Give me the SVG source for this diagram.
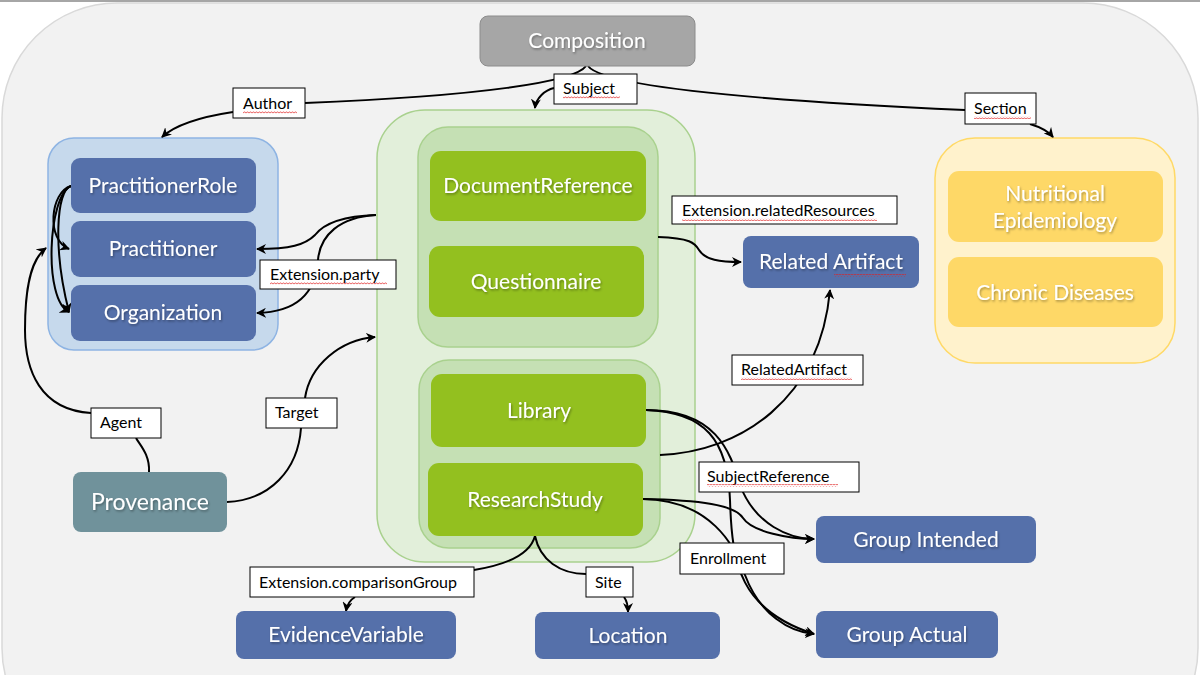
<svg xmlns="http://www.w3.org/2000/svg" width="1200" height="675" viewBox="0 0 1200 675">
<style>
.nt{font-family:Lato,"Noto Sans","Liberation Sans",sans-serif;font-size:21px;fill:#fff;text-anchor:middle;filter:url(#ts)}
.lb{font-family:Lato,"Noto Sans","Liberation Sans",sans-serif;font-size:16px;fill:#000}
.lbox{fill:#fff;stroke:#000;stroke-width:1}
.blue{fill:#5570aa}
.green{fill:#93c01f}
.yel{fill:#fed867}
.c{fill:none;stroke:#000;stroke-width:2}
.a{marker-end:url(#ah)}
.sq{fill:url(#sq)}
</style>
<defs>
<filter id="ts" x="-10%" y="-20%" width="120%" height="150%"><feDropShadow dx="1" dy="1.5" stdDeviation="0.8" flood-color="#000" flood-opacity="0.35"/></filter>
<marker id="ah" viewBox="0 0 10 10" refX="9" refY="5" markerWidth="5" markerHeight="5" orient="auto" markerUnits="strokeWidth"><path d="M0,0 L10,5 L0,10 L3,5 Z" fill="#000"/></marker>
<pattern id="sq" width="3" height="3" patternUnits="userSpaceOnUse"><path d="M0,2.3 L1.5,0.7 L3,2.3" fill="none" stroke="#e02020" stroke-width="0.8"/></pattern>
</defs>
<rect x="0" y="0" width="1200" height="675" fill="#fff"/>
<line x1="0" y1="1" x2="1200" y2="1" stroke="#a6a6a6" stroke-width="2"/>
<rect id="background" x="2" y="3" width="1196" height="760" rx="115" fill="#f2f2f2" stroke="#d9d9d9" stroke-width="1.5"/>

<g id="group-blue"><rect x="48" y="138" width="230" height="212" rx="26" fill="#c6d9ec" stroke="#8eb4e3" stroke-width="1.5"/></g>
<g id="group-green-outer"><rect x="377" y="110" width="318" height="452" rx="48" fill="#e2efda" stroke="#a9d18e" stroke-width="1.5"/></g>
<g id="group-green-1"><rect x="418" y="127" width="240" height="220" rx="30" fill="#c5e0b4" stroke="#a9d18e" stroke-width="1.5"/></g>
<g id="group-green-2"><rect x="419" y="360" width="241" height="188" rx="30" fill="#c5e0b4" stroke="#a9d18e" stroke-width="1.5"/></g>
<g id="group-yellow"><rect x="935" y="138" width="240" height="225" rx="40" fill="#fff2cc" stroke="#ffd966" stroke-width="1.5"/></g>

<g id="connectors">
<path class="c" d="M586,66 C575,82 480,96 305,103"/>
<path class="c a" d="M233,112 C200,117 175,125 162,137"/>
<path class="c" d="M588,66 C600,82 700,98 965,110"/>
<path class="c a" d="M1030,124 C1040,127 1048,131 1053,137"/>
<path class="c a" d="M554,88 C545,90 536,98 535,108"/>
<path class="c a" d="M71,186 C50,192 46,240 69,249"/>
<path class="c a" d="M71,186 C48,195 43,300 69,312"/>
<path class="c a" d="M71,186 C56,190 53,250 69,312"/>
<path class="c a" d="M376,215 C345,216 325,222 315,235 C305,245 290,249 257,249"/>
<path class="c a" d="M376,215 C340,217 320,235 318,260 C316,290 300,312 257,313"/>
<path class="c a" d="M658,237 C690,238 695,243 699,250 C705,260 720,262 741,262"/>
<path class="c a" d="M660,455 C740,452 820,400 830,290"/>
<path class="c a" d="M646,410 C715,410 730,450 740,485 C755,525 790,539 814,539"/>
<path class="c a" d="M646,410 C705,412 728,440 730,500 C732,565 740,610 814,634"/>
<path class="c a" d="M643,499 C700,500 735,505 743,518 C752,532 790,539 814,539"/>
<path class="c a" d="M643,499 C710,500 735,545 745,575 C760,615 790,632 814,634"/>
<path class="c" d="M149,472 C150,455 140,445 136,438"/>
<path class="c a" d="M91,413 C40,410 25,370 25,330 C25,290 30,260 46,248"/>
<path class="c" d="M227,502 C270,500 298,470 301,428"/>
<path class="c a" d="M305,398 C310,365 340,340 375,337"/>
<path class="c" d="M535,536 C530,555 505,565 474,570"/>
<path class="c a" d="M355,597 C350,600 347,605 346,611"/>
<path class="c" d="M535,536 C540,560 560,574 586,574"/>
<path class="c a" d="M624,597 C627,601 628,606 628,612"/>
</g>

<g id="composition"><rect x="480" y="16" width="215" height="50" rx="8" fill="#a6a6a6" stroke="#8c8c8c" stroke-width="1"/><text class="nt" x="587" y="48">Composition</text></g>
<g id="practitionerrole"><rect class="blue" x="71" y="158" width="185" height="55" rx="9"/><text class="nt" x="163" y="193">PractitionerRole</text></g>
<g id="practitioner"><rect class="blue" x="71" y="221" width="185" height="56" rx="9"/><text class="nt" x="163" y="256">Practitioner</text></g>
<g id="organization"><rect class="blue" x="71" y="285" width="185" height="56" rx="9"/><text class="nt" x="163" y="320">Organization</text></g>
<g id="documentreference"><rect class="green" x="430" y="151" width="216" height="70" rx="11"/><text class="nt" x="538" y="193">DocumentReference</text></g>
<g id="questionnaire"><rect class="green" x="429" y="246" width="215" height="71" rx="11"/><text class="nt" x="536" y="289">Questionnaire</text></g>
<g id="library"><rect class="green" x="431" y="374" width="215" height="73" rx="11"/><text class="nt" x="539" y="418">Library</text></g>
<g id="researchstudy"><rect class="green" x="428" y="463" width="215" height="73" rx="11"/><text class="nt" x="535" y="507">ResearchStudy</text></g>
<g id="relatedartifact"><rect class="blue" x="743" y="236" width="176" height="52" rx="8"/><text class="nt" x="831" y="269">Related Artifact</text><rect class="sq" x="834" y="274" width="72" height="3"/></g>
<g id="nutritional"><rect class="yel" x="948" y="171" width="215" height="71" rx="11"/><text class="nt" x="1055" y="201">Nutritional</text><text class="nt" x="1055" y="228">Epidemiology</text></g>
<g id="chronic"><rect class="yel" x="948" y="257" width="215" height="70" rx="11"/><text class="nt" x="1055" y="300">Chronic Diseases</text></g>
<g id="provenance"><rect x="73" y="472" width="154" height="60" rx="8" fill="#70929b"/><text class="nt" x="150" y="510" style="font-size:23px">Provenance</text></g>
<g id="groupintended"><rect class="blue" x="816" y="516" width="220" height="47" rx="8"/><text class="nt" x="926" y="547">Group Intended</text></g>
<g id="groupactual"><rect class="blue" x="816" y="611" width="182" height="47" rx="8"/><text class="nt" x="907" y="642">Group Actual</text></g>
<g id="evidencevariable"><rect class="blue" x="236" y="611" width="220" height="48" rx="8"/><text class="nt" x="346" y="642">EvidenceVariable</text></g>
<g id="location"><rect class="blue" x="535" y="612" width="185" height="47" rx="8"/><text class="nt" x="628" y="643">Location</text></g>

<g id="labels">
<g id="lbl-author"><rect class="lbox" x="233" y="88" width="72" height="30"/><text class="lb" x="243" y="109">Author</text><rect class="sq" x="243" y="111" width="54" height="3"/></g>
<g id="lbl-subject"><rect class="lbox" x="554" y="74" width="83" height="30"/><text class="lb" x="563" y="94">Subject</text><rect class="sq" x="563" y="96" width="57" height="3"/></g>
<g id="lbl-section"><rect class="lbox" x="965" y="93" width="71" height="31"/><text class="lb" x="974" y="114">Section</text><rect class="sq" x="974" y="116" width="57" height="3"/></g>
<g id="lbl-party"><rect class="lbox" x="260" y="260" width="136" height="29"/><text class="lb" x="270" y="280">Extension.party</text><rect class="sq" x="270" y="282" width="117" height="3"/></g>
<g id="lbl-related"><rect class="lbox" x="672" y="196" width="225" height="28"/><text class="lb" x="682" y="216">Extension.relatedResources</text><rect class="sq" x="682" y="218" width="195" height="3"/></g>
<g id="lbl-relart"><rect class="lbox" x="732" y="355" width="131" height="30"/><text class="lb" x="741" y="375">RelatedArtifact</text><rect class="sq" x="741" y="377" width="111" height="3"/></g>
<g id="lbl-agent"><rect class="lbox" x="91" y="408" width="70" height="30"/><text class="lb" x="100" y="428">Agent</text></g>
<g id="lbl-target"><rect class="lbox" x="266" y="398" width="71" height="30"/><text class="lb" x="275" y="418">Target</text></g>
<g id="lbl-subjref"><rect class="lbox" x="699" y="462" width="160" height="30"/><text class="lb" x="707" y="482">SubjectReference</text><rect class="sq" x="707" y="484" width="131" height="3"/></g>
<g id="lbl-enroll"><rect class="lbox" x="680" y="543" width="104" height="31"/><text class="lb" x="690" y="564">Enrollment</text></g>
<g id="lbl-comp"><rect class="lbox" x="250" y="567" width="224" height="30"/><text class="lb" x="259" y="588">Extension.comparisonGroup</text></g>
<g id="lbl-site"><rect class="lbox" x="586" y="567" width="47" height="30"/><text class="lb" x="595" y="588">Site</text></g>
</g>
</svg>
